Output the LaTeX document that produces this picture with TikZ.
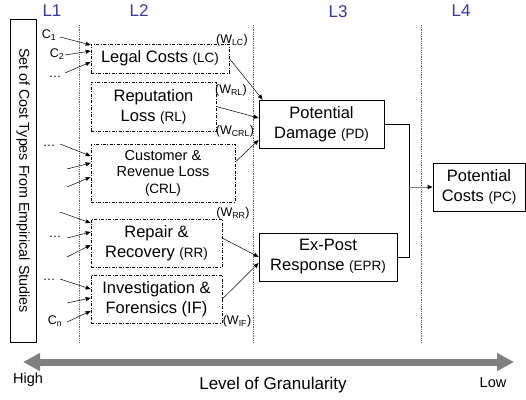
\documentclass[tikz,border=0pt]{standalone}
\usepackage{fontspec}
\setmainfont{Liberation Sans}
\usetikzlibrary{calc,arrows.meta,positioning}
\definecolor{levelblue}{RGB}{55,55,165}
\definecolor{gridblue}{RGB}{80,80,245}
\definecolor{scalegray}{RGB}{128,128,128}
\newcommand{\costabbr}[1]{{\fontsize{13.5}{15}\selectfont(#1)}}
\newcommand{\weightlbl}[1]{{\fontsize{12.5}{14}\selectfont(W\textsubscript{#1})}}
\tikzset{
    typebox/.style={
        draw,
        line width=0.6pt,
        dash pattern=on 3pt off 1.6pt on 0.7pt off 1.6pt,
        align=center,
        inner sep=1pt,
        font=\fontsize{16.5}{20}\selectfont
    },
    aggbox/.style={
        draw,
        line width=0.7pt,
        align=center,
        inner sep=1pt,
        minimum height=48,
        font=\fontsize{16.5}{20}\selectfont
    },
    inarrow/.style={
        line width=0.5pt,
        -{Triangle[length=5pt, width=4pt]}
    },
    levellabel/.style={levelblue, font=\fontsize{17}{20}\selectfont},
    levelline/.style={gridblue, line width=0.6pt, dash pattern=on 0.6pt off 1.2pt},
    inputlabel/.style={inner sep=0pt, font=\fontsize{12.5}{14}\selectfont},
    weightnode/.style={inner sep=0pt},
    granularity/.style={
        line width=7pt,
        scalegray,
        {Triangle[length=17pt, width=17pt]}-{Triangle[length=17pt, width=17pt]}
    }
}

\begin{document}
\begin{tikzpicture}[x=1pt,y=-1pt]
    \useasboundingbox (0,0) rectangle (526,399);

    % levels
    \foreach \x in {79,253,421}
        \draw[levelline] (\x,25) -- (\x,342);
    \node[levellabel] (L1) at (52,11) {L1};
    \node[levellabel] (L2) at (139,11) {L2};
    \node[levellabel] (L3) at (338,12) {L3};
    \node[levellabel] (L4) at (461,11) {L4};

    \node[draw, line width=0.7pt, rotate=-90, minimum width=323, minimum height=26,
          inner sep=0pt, font=\fontsize{14.3}{16}\selectfont] (studies) at (23,180.5)
          {Set of Cost Types From Empirical Studies};

    \node[typebox, minimum width=138, minimum height=29] (LC) at (160,58.5) {Legal Costs \costabbr{LC}};
    \node[typebox, minimum width=125, minimum height=49] (RL) at (153.5,106.5) {Reputation\\Loss \costabbr{RL}};
    \node[typebox, minimum width=144, minimum height=58, font=\fontsize{14.5}{16.5}\selectfont] (CRL) at (163,173)
          {Customer \&\\Revenue Loss\\\costabbr{CRL}};
    \node[typebox, minimum width=131, minimum height=48] (RR) at (156.5,243) {Repair \&\\Recovery \costabbr{RR}};
    \node[typebox, minimum width=131, minimum height=48] (IF) at (156.5,299) {Investigation \&\\Forensics (IF)};

    \node[aggbox, minimum width=125] (PD) at (321.5,124) {Potential\\Damage \costabbr{PD}};
    \node[aggbox, minimum width=138] (EPR) at (328,257) {Ex-Post\\Response \costabbr{EPR}};
    \node[aggbox, minimum width=92] (PC) at (479,187) {Potential\\Costs \costabbr{PC}};

    % inputs
    \node[inputlabel] (c1) at (49,35) {C\textsubscript{1}};
    \node[inputlabel] (c2) at (57,54) {C\textsubscript{2}};
    \node[inputlabel] (cn) at (55,321) {C\textsubscript{n}};
    \node[inputlabel] (dots1) at (55,77) {\dots};
    \node[inputlabel] (dots2) at (49,146) {\dots};
    \node[inputlabel] (dots3) at (55,237) {\dots};
    \node[inputlabel] (dots4) at (49,280) {\dots};
    \foreach \s/\x/\y/\b/\d in {s1/60/37/LC/-13.5, s2/65/55/LC/-7.5, s3/65/73/LC/3.5,
                                s4/60/144/CRL/-17, s5/67/169/CRL/-10, s6/67/187/CRL/4,
                                s7/60/212/RR/-20, s8/67/238/RR/-11, s9/67/257/RR/2,
                                s10/60/279/IF/-10, s11/67/303/IF/-1, s12/67/322/IF/12}{
        \coordinate (\s) at (\x,\y);
        \draw[inarrow] (\s) -- ($(\b.west)+(0,\d)$);
    }

    % weights
    \node[weightnode] (wLC) at (232,40) {\weightlbl{LC}};
    \node[weightnode] (wRL) at (231,90) {\weightlbl{RL}};
    \node[weightnode] (wCRL) at (235,131) {\weightlbl{CRL}};
    \node[weightnode] (wRR) at (233,213) {\weightlbl{RR}};
    \node[weightnode] (wIF) at (237,321) {\weightlbl{IF}};

    \draw[inarrow] (LC.east) -- ($(PD.north west)+(4,0)$);
    \draw[inarrow] (RL.east) -- ($(PD.west)+(0,-6)$);
    \draw[inarrow] ($(CRL.east)+(0,-11)$) -- ($(PD.west)+(0,16)$);
    \draw[inarrow] ($(RR.east)+(0,-5)$) -- (EPR.west);
    \draw[inarrow] (IF.east) -- ($(EPR.west)+(0,6)$);

    \coordinate (join) at (409,187);
    \draw[line width=0.6pt] (PD.east) -| (join);
    \draw[line width=0.6pt] (EPR.east) -| (join);
    \draw[scalegray, line width=0.8pt, -{Triangle[length=5pt, width=4pt, black]}] (join) -- (PC.west);

    % granularity scale
    \coordinate (high) at (23,362);
    \coordinate (low) at (514,362);
    \draw[granularity] (high) -- (low);
    \node[font=\fontsize{14.5}{16}\selectfont] (hightext) at (28,380) {High};
    \node[font=\fontsize{14.5}{16}\selectfont] (lowtext) at (493,383) {Low};
    \node[font=\fontsize{17}{20}\selectfont] (granularitytext) at (273,385) {Level of Granularity};
\end{tikzpicture}
\end{document}
